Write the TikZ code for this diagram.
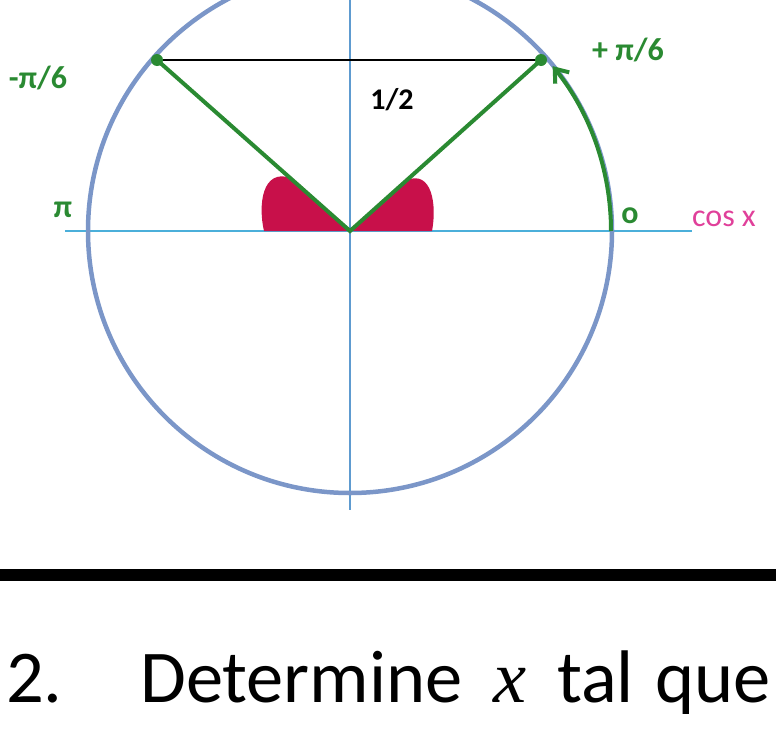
\documentclass[tikz,border=0pt]{standalone}
\usepackage{fix-cm}
\usepackage{fontspec}
\setmainfont{Carlito}
\newfontfamily\mathlike{Liberation Serif}
\usetikzlibrary{arrows.meta}
\definecolor{circblue}{HTML}{7B96C8}
\definecolor{axisblue}{HTML}{5E9BD0}
\definecolor{handgreen}{HTML}{2A8A32}
\definecolor{blobred}{HTML}{C8104A}
\definecolor{cospink}{HTML}{E0409A}
\tikzset{
    greenlbl/.style={text=handgreen, font=\fontsize{32}{32}\selectfont\bfseries},
    greenline/.style={draw=handgreen, line width=4pt, line cap=round},
    question/.style={anchor=base west, inner sep=0pt, font=\fontsize{74.5}{74.5}\selectfont},
}

\begin{document}
\begin{tikzpicture}[x=1pt, y=-1pt]
    \useasboundingbox (0,0) rectangle (776,755);
    \clip (0,0) rectangle (776,755);

    \coordinate (O) at (350,231);
    \coordinate (L) at (157,60);
    \coordinate (R) at (541,60);
    \coordinate (E) at (611,231);

    % axes
    \coordinate (ytop) at (350,0);
    \coordinate (ybot) at (350,510);
    \coordinate (xl) at (65,231);
    \coordinate (xr) at (692,231);
    \draw [axisblue, line width=2pt] (ytop) -- (ybot);
    \draw [axisblue!80!cyan, line width=2pt] (xl) -- (xr);

    % red angle marks
    \fill [blobred] (O) -- (291,178) .. controls (262,168) and (258,205) .. (264,231) -- cycle;
    \fill [blobred] (O) -- (407,180) .. controls (432,170) and (437,205) .. (432,231) -- cycle;

    % circle
    \draw [circblue, line width=4.5pt] (O) circle [radius=262];

    % chord and radii
    \draw [black, line width=2pt] (L) -- (R);
    \draw [greenline] (L) -- (O) -- (R);
    \draw [handgreen, line width=4pt, -{Straight Barb[length=12pt,width=18pt]}] (E) arc [start angle=0, end angle=-39, radius=262];
    \fill [handgreen] (L) circle [radius=6];
    \fill [handgreen] (R) circle [radius=6];

    % labels
    \node [greenlbl] (minus) at (38,78) {-π/6};
    \node [greenlbl] (plus) at (628,50) {+ π/6};
    \node [greenlbl] (pi) at (63,210) {π};
    \node [greenlbl] (zero) at (630,216) {o};
    \node [text=cospink, font=\fontsize{32}{32}\selectfont] (cosx) at (724,219) {cos x};
    \node [font=\fontsize{30}{30}\selectfont\bfseries] (half) at (392,100) {1/2};

    % separator
    \coordinate (sepl) at (0,575);
    \coordinate (sepr) at (776,575);
    \draw [line width=12pt] (sepl) -- (sepr);

    % question
    \node [question] (num) at (6,702) {2.};
    \node [question] (det) at (140,702) {Determine};
    \node [question] (var) at (493,702) {\mathlike\itshape x};
    \node [question] (tal) at (557,702) {tal};
    \node [question] (que) at (655,702) {que};
\end{tikzpicture}
\end{document}
